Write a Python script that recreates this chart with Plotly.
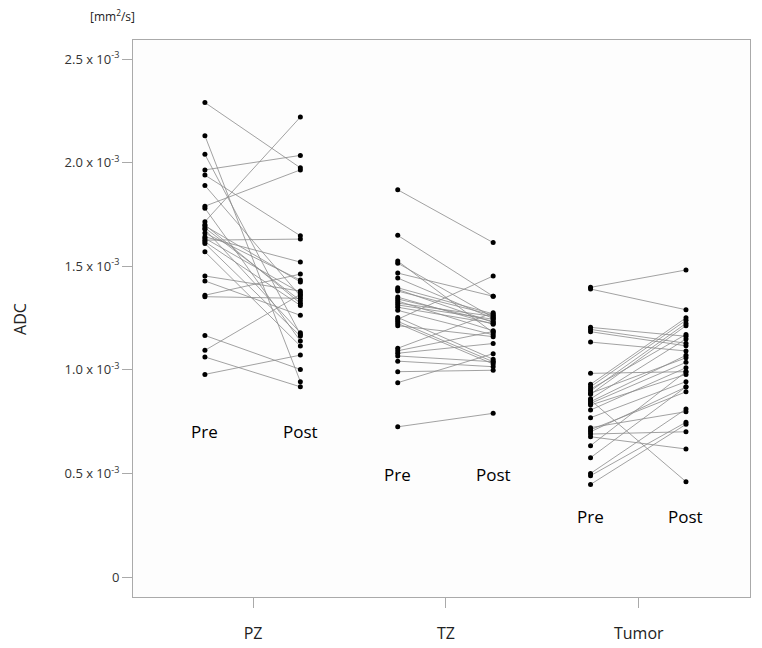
import plotly.graph_objects as go

# ADC values in units of 10^-3 mm^2/s, paired Pre -> Post per subject
groups = ["PZ", "TZ", "Tumor"]

pz_pre = [2.29, 2.13, 2.04, 1.965, 1.94, 1.89, 1.79, 1.78, 1.715, 1.70, 1.695, 1.685,
          1.678, 1.66, 1.642, 1.635, 1.626, 1.618, 1.61, 1.57, 1.453, 1.429, 1.36, 1.353,
          1.166, 1.094, 1.062, 0.978]
pz_post = [1.975, 0.943, 1.171, 2.035, 1.647, 1.356, 1.965, 1.139, 2.22, 1.321, 1.424, 1.334,
           1.179, 1.433, 1.52, 1.372, 1.631, 1.311, 1.163, 1.115, 1.38, 1.263, 1.462, 1.345,
           1.002, 1.364, 0.918, 1.071]

tz_pre = [1.869, 1.649, 1.525, 1.515, 1.467, 1.443, 1.396, 1.388, 1.380, 1.351, 1.342, 1.332,
          1.322, 1.313, 1.302, 1.287, 1.253, 1.244, 1.234, 1.224, 1.213, 1.104, 1.092, 1.080,
          1.067, 1.042, 0.991, 0.938, 0.725]
tz_post = [1.614, 1.355, 1.179, 1.253, 1.355, 1.248, 1.27, 1.229, 1.264, 1.22, 1.234, 1.189,
           1.258, 1.244, 1.224, 1.169, 1.051, 1.453, 1.039, 1.028, 1.160, 1.276, 1.185, 1.127,
           1.039, 1.015, 0.998, 1.078, 0.790]

tumor_pre = [1.398, 1.390, 1.205, 1.195, 1.184, 1.134, 0.983, 0.930, 0.918, 0.907, 0.898,
             0.887, 0.882, 0.86, 0.854, 0.846, 0.838, 0.830, 0.806, 0.769, 0.721, 0.711,
             0.701, 0.690, 0.677, 0.634, 0.576, 0.500, 0.489, 0.447]
tumor_post = [1.482, 1.290, 1.162, 1.128, 1.116, 1.091, 0.991, 1.251, 1.239, 1.171, 1.224,
              1.058, 1.213, 1.149, 0.460, 1.070, 1.036, 0.978, 1.010, 0.943, 0.798, 0.894,
              0.917, 0.701, 0.618, 0.991, 0.918, 0.811, 0.747, 0.737]

ytick_vals = [0, 0.5, 1.0, 1.5, 2.0, 2.5]
ytick_text = ["0", "0.5 x 10<sup>-3</sup>", "1.0 x 10<sup>-3</sup>", "1.5 x 10<sup>-3</sup>",
              "2.0 x 10<sup>-3</sup>", "2.5 x 10<sup>-3</sup>"]
phase_labels = ["Pre", "Post"]
label_levels = [0.70, 0.497, 0.294]

PRE_OFF, POST_OFF = -0.25, 0.245
FONT = "Open Sans"

fig = go.Figure()
data = [(pz_pre, pz_post), (tz_pre, tz_post), (tumor_pre, tumor_post)]
for gi, (pre, post) in enumerate(data):
    c = gi + 1
    lx, ly = [], []
    for a, b in zip(pre, post):
        lx += [c + PRE_OFF, c + POST_OFF, None]
        ly += [a, b, None]
    fig.add_trace(go.Scatter(x=lx, y=ly, mode="lines",
                             line=dict(color="#8a8a8a", width=0.8),
                             hoverinfo="skip", showlegend=False))
    fig.add_trace(go.Scatter(x=[c + PRE_OFF] * len(pre) + [c + POST_OFF] * len(post),
                             y=list(pre) + list(post), mode="markers",
                             marker=dict(color="black", size=5),
                             showlegend=False))
    for off, lab in zip([PRE_OFF, POST_OFF], phase_labels):
        fig.add_annotation(x=c + off, y=label_levels[gi], text=lab, showarrow=False,
                           font=dict(family=FONT, size=17, color="black"),
                           xanchor="center", yanchor="middle")

fig.add_annotation(xref="paper", yref="paper", x=-0.184, y=0.5, text="ADC",
                   textangle=-90, showarrow=False, xanchor="center", yanchor="middle",
                   font=dict(family=FONT, size=16, color="#222"))
fig.add_annotation(xref="paper", yref="paper", x=-0.073, y=1.062, text="[mm<sup>2</sup>/s]",
                   showarrow=False, font=dict(family=FONT, size=12, color="#222"))

fig.update_xaxes(range=[0.377, 3.577], tickvals=[1, 2, 3], ticktext=groups,
                 showgrid=False, zeroline=False, showline=True, mirror=True,
                 linecolor="#aaaaaa", linewidth=1, ticks="outside", ticklen=10,
                 tickcolor="#aaaaaa", ticklabelstandoff=12, automargin=False,
                 tickfont=dict(family=FONT, size=16, color="#222"))
fig.update_yaxes(range=[-0.0965, 2.592], tickvals=ytick_vals, ticktext=ytick_text,
                 showgrid=False, zeroline=False, showline=True, mirror=True,
                 linecolor="#aaaaaa", linewidth=1, ticks="outside", ticklen=10,
                 tickcolor="#aaaaaa", automargin=False,
                 tickfont=dict(family=FONT, size=13, color="#333"))

fig.update_layout(width=754, height=640, margin=dict(l=125, r=12, t=32, b=51),
                  plot_bgcolor="#fdfdfd", paper_bgcolor="white",
                  font=dict(family=FONT))

fig.write_html("out.html")
